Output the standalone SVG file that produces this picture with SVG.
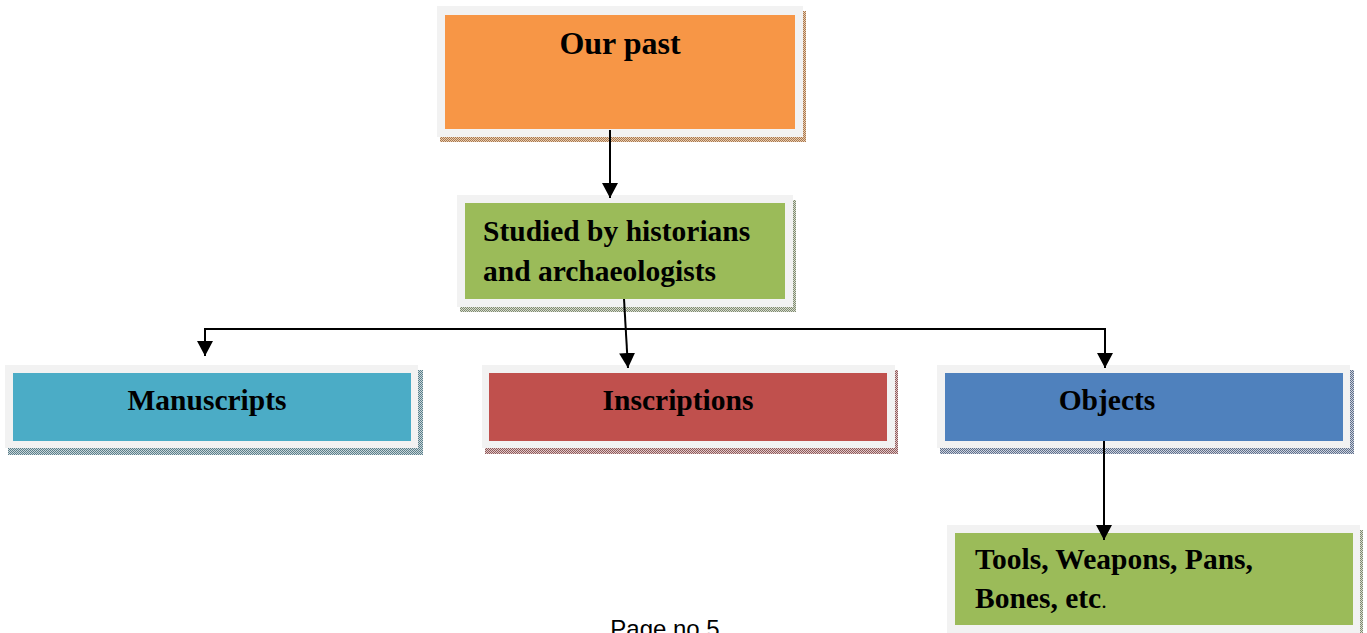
<svg xmlns="http://www.w3.org/2000/svg" width="1367" height="633" viewBox="0 0 1367 633">
<defs>
<pattern id="shO" width="2" height="2" patternUnits="userSpaceOnUse"><rect width="2" height="2" fill="#e8cdb2"/><rect width="1" height="1" fill="#a9784e"/><rect x="1" y="1" width="1" height="1" fill="#a9784e"/></pattern>
<pattern id="shG" width="2" height="2" patternUnits="userSpaceOnUse"><rect width="2" height="2" fill="#d8dccf"/><rect width="1" height="1" fill="#7f8a70"/><rect x="1" y="1" width="1" height="1" fill="#7f8a70"/></pattern>
<pattern id="shT" width="2" height="2" patternUnits="userSpaceOnUse"><rect width="2" height="2" fill="#c9d6da"/><rect width="1" height="1" fill="#5b7f8a"/><rect x="1" y="1" width="1" height="1" fill="#5b7f8a"/></pattern>
<pattern id="shR" width="2" height="2" patternUnits="userSpaceOnUse"><rect width="2" height="2" fill="#e0c8c8"/><rect width="1" height="1" fill="#8f5a5a"/><rect x="1" y="1" width="1" height="1" fill="#8f5a5a"/></pattern>
<pattern id="shB" width="2" height="2" patternUnits="userSpaceOnUse"><rect width="2" height="2" fill="#cdd3dd"/><rect width="1" height="1" fill="#5f6f8c"/><rect x="1" y="1" width="1" height="1" fill="#5f6f8c"/></pattern>
<marker id="arr" markerUnits="userSpaceOnUse" markerWidth="16" markerHeight="16" refX="15" refY="8" orient="auto"><path d="M0,0 L15,8 L0,16 Z" fill="#000"/></marker>
<style>
.outer{fill:#f2f2f2}
.lbl{font-family:"Liberation Serif","Times New Roman",serif;font-weight:bold;font-size:29.5px;fill:#000}
.conn{stroke:#000;stroke-width:2;fill:none}
</style>
</defs>

<g id="node-our-past">
<rect x="440" y="11" width="366" height="131" fill="url(#shO)"/>
<rect class="outer" x="437" y="6" width="366" height="131"/>
<rect x="445" y="15" width="350" height="114" fill="#f79646"/>
<text class="lbl" x="620" y="54" text-anchor="middle" style="font-size:32px">Our past</text>
</g>

<g id="node-studied">
<rect x="460" y="200" width="336" height="112" fill="url(#shG)"/>
<rect class="outer" x="457" y="195" width="336" height="112"/>
<rect x="465" y="203" width="320" height="96" fill="#9bbb59"/>
<text class="lbl" x="483" y="241">Studied by historians</text>
<text class="lbl" x="483" y="281">and archaeologists</text>
</g>

<g id="node-manuscripts">
<rect x="8" y="370" width="415" height="85" fill="url(#shT)"/>
<rect class="outer" x="5" y="365" width="413" height="83"/>
<rect x="13" y="373" width="398" height="68" fill="#4bacc6"/>
<text class="lbl" x="207" y="410" text-anchor="middle">Manuscripts</text>
</g>

<g id="node-inscriptions">
<rect x="485" y="370" width="413" height="84" fill="url(#shR)"/>
<rect class="outer" x="482" y="365" width="413" height="83"/>
<rect x="489" y="373" width="398" height="68" fill="#c0504d"/>
<text class="lbl" x="678" y="410" text-anchor="middle">Inscriptions</text>
</g>

<g id="node-objects">
<rect x="940" y="370" width="414" height="84" fill="url(#shB)"/>
<rect class="outer" x="937" y="365" width="413" height="83"/>
<rect x="945" y="373" width="398" height="68" fill="#4f81bd"/>
<text class="lbl" x="1107" y="410" text-anchor="middle">Objects</text>
</g>

<g id="node-tools">
<rect x="950" y="530" width="413" height="110" fill="url(#shG)"/>
<rect class="outer" x="947" y="525" width="413" height="110"/>
<rect x="955" y="533" width="398" height="92" fill="#9bbb59"/>
<text class="lbl" x="975" y="569">Tools, Weapons, Pans,</text>
<text class="lbl" x="975" y="608">Bones, etc<tspan style="font-weight:normal;font-size:22px">.</tspan></text>
</g>

<g id="connectors">
<line class="conn" x1="610" y1="130" x2="610" y2="198" marker-end="url(#arr)"/>
<line class="conn" x1="624" y1="299" x2="628" y2="368" marker-end="url(#arr)"/>
<path class="conn" d="M625,329 H205 V356" marker-end="url(#arr)"/>
<path class="conn" d="M625,329 H1105 V368" marker-end="url(#arr)"/>
<line class="conn" x1="1104" y1="441" x2="1104" y2="540" marker-end="url(#arr)"/>
</g>

<text x="665" y="637" text-anchor="middle" font-family="Liberation Sans, Arial, sans-serif" font-size="24" fill="#000">Page no 5</text>
</svg>
